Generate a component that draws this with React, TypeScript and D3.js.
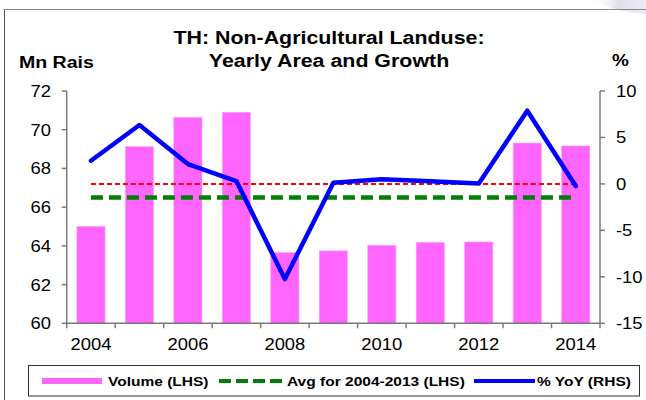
import React from "react";
import * as d3 from "d3";

const years = ["2004", "2005", "2006", "2007", "2008", "2009", "2010", "2011", "2012", "2013", "2014"];
const volume = [65.0, 69.12, 70.64, 70.9, 63.65, 63.74, 64.03, 64.18, 64.2, 69.31, 69.16];
const yoy = [2.5, 6.34, 2.14, 0.31, -10.24, 0.13, 0.5, 0.3, 0.05, 7.88, -0.23];
const avgValue = 66.5;
const zeroRef = 0;
const leftTicks = [60, 62, 64, 66, 68, 70, 72];
const rightTicks = [-15, -10, -5, 0, 5, 10];
const xLabels = ["2004", "2006", "2008", "2010", "2012", "2014"];

const W = 646;
const H = 400;
const X0 = 66.7;
const X1 = 600;
const YT = 91;
const YB = 323.3;
const SX = 1.15;
const FONT = "'Liberation Sans', Arial, sans-serif";
const AXIS = "#7a7a7a";

function T({ x, y, anchor = "start", size, bold = false, children }: any) {
  return (
    <text
      transform={`translate(${x},${y}) scale(${SX},1)`}
      textAnchor={anchor}
      fontFamily={FONT}
      fontSize={size}
      fontWeight={bold ? "bold" : "normal"}
      fill="#000"
    >
      {children}
    </text>
  );
}

export default function App() {
  const pIn = 0.42;
  const x = d3.scaleBand<string>().domain(years).range([X0, X1]).paddingInner(pIn).paddingOuter(pIn / 2);
  const yL = d3.scaleLinear().domain([60, 72]).range([YB, YT]);
  const yR = d3.scaleLinear().domain([-15, 10]).range([YB, YT]);
  const step = x.step();
  const bw = x.bandwidth();
  const cx = (d: string) => (x(d) as number) + bw / 2;
  const boundaries = d3.range(years.length + 1).map((i) => X0 + i * step);

  const line = d3
    .line<number>()
    .x((_, i) => cx(years[i]))
    .y((v) => yR(v));

  const first = cx(years[0]);
  const last = cx(years[years.length - 1]);

  return (
    <svg
      width={W}
      height={H}
      style={{ position: "absolute", left: 0, top: 0, background: "#fff" }}
    >
      <defs>
        <linearGradient id="swoosh" x1="0" y1="0" x2="1" y2="0">
          <stop offset="0" stopColor="#ffffff" stopOpacity="0" />
          <stop offset="0.5" stopColor="#dcdce8" stopOpacity="0.9" />
          <stop offset="1" stopColor="#e9e9f1" stopOpacity="0.9" />
        </linearGradient>
      </defs>
      <rect x={0} y={0} width={W} height={H} fill="#fff" />
      {/* decorative corner */}
      <path d="M590,0 L646,0 L646,14 Q620,12 600,4 Z" fill="url(#swoosh)" />
      {/* frame */}
      <line x1={4} y1={9.5} x2={W} y2={9.5} stroke="#8a8a8a" strokeWidth={1.2} />
      <line x1={4.5} y1={9.5} x2={4.5} y2={H} stroke="#555" strokeWidth={1} />

      {/* titles */}
      <T x={329} y={44} anchor="middle" size={18.6} bold>
        TH: Non-Agricultural Landuse:
      </T>
      <T x={329} y={66.5} anchor="middle" size={18.6} bold>
        Yearly Area and Growth
      </T>
      <T x={19} y={68} size={17} bold>
        Mn Rais
      </T>
      <T x={612} y={66} size={16.5} bold>
        %
      </T>

      {/* bars */}
      {years.map((d, i) => (
        <rect
          key={d}
          x={x(d)}
          y={yL(volume[i])}
          width={bw}
          height={YB - yL(volume[i])}
          fill="#ff66ff"
          stroke="#ff99ff"
          strokeWidth={0.6}
        />
      ))}

      {/* reference lines */}
      <line
        x1={first}
        x2={last}
        y1={yR(zeroRef)}
        y2={yR(zeroRef)}
        stroke="#ff0000"
        strokeWidth={2}
        strokeDasharray="5,3"
      />
      <line
        x1={first}
        x2={last}
        y1={yL(avgValue)}
        y2={yL(avgValue)}
        stroke="#008000"
        strokeWidth={4.5}
        strokeDasharray="12,6"
      />

      {/* yoy line */}
      <path
        d={line(yoy) || ""}
        fill="none"
        stroke="#0000ff"
        strokeWidth={4.5}
        strokeLinejoin="round"
        strokeLinecap="round"
      />

      {/* axes */}
      <line x1={X0} x2={X0} y1={YT} y2={YB} stroke={AXIS} strokeWidth={1.5} />
      <line x1={X1} x2={X1} y1={YT} y2={YB} stroke={AXIS} strokeWidth={1.5} />
      <line x1={X0} x2={X1} y1={YB} y2={YB} stroke={AXIS} strokeWidth={1.5} />
      {leftTicks.map((t) => (
        <g key={"l" + t}>
          <line x1={X0 - 5} x2={X0} y1={yL(t)} y2={yL(t)} stroke={AXIS} strokeWidth={1.5} />
          <T x={51} y={yL(t) + 6} anchor="end" size={16}>
            {t}
          </T>
        </g>
      ))}
      {rightTicks.map((t) => (
        <g key={"r" + t}>
          <line x1={X1} x2={X1 + 5} y1={yR(t)} y2={yR(t)} stroke={AXIS} strokeWidth={1.5} />
          <T x={616} y={yR(t) + 6} size={16}>
            {t}
          </T>
        </g>
      ))}
      {boundaries.map((b, i) => (
        <line key={"b" + i} x1={b} x2={b} y1={YB} y2={YB + 5} stroke={AXIS} strokeWidth={1.5} />
      ))}
      {xLabels.map((d) => (
        <T key={"x" + d} x={cx(d)} y={350} anchor="middle" size={16}>
          {d}
        </T>
      ))}

      {/* legend */}
      <rect x={28.5} y={365.5} width={611} height={30.5} fill="#fff" stroke="#333" strokeWidth={1} />
      <rect x={42} y={378} width={60} height={6} fill="#ff66ff" />
      <T x={108} y={386} size={13.5} bold>
        Volume (LHS)
      </T>
      <line x1={219} x2={282} y1={381} y2={381} stroke="#008000" strokeWidth={4} strokeDasharray="12,5" />
      <T x={287} y={386} size={13.5} bold>
        Avg for 2004-2013 (LHS)
      </T>
      <line x1={474} x2={535} y1={381} y2={381} stroke="#0000ff" strokeWidth={4} />
      <T x={537} y={386} size={13.5} bold>
        % YoY (RHS)
      </T>
    </svg>
  );
}
